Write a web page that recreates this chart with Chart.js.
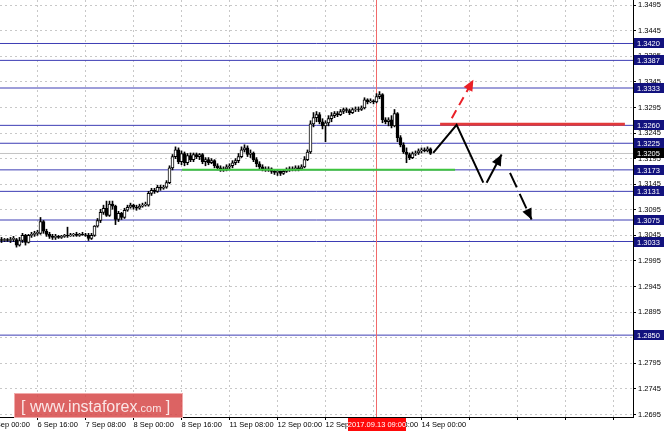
<!DOCTYPE html>
<html><head><meta charset="utf-8">
<script src="https://cdn.jsdelivr.net/npm/chart.js@4.4.0/dist/chart.umd.min.js"></script>
<style>html,body{margin:0;padding:0;background:#fff;}#wrap{width:664px;height:432px;}</style>
</head><body><div id="wrap"><canvas id="c" width="664" height="432"></canvas></div>
<script>
// ---- data (H1 bars, 6 Sep 04:00 .. 14 Sep 03:00) ----
const openP = [1.3037,1.3035,1.3037,1.3035,1.3037,1.3037,1.3026,1.3035,1.3045,1.3031,
1.3045,1.3047,1.3049,1.3049,1.3072,1.3053,1.3047,1.3043,1.3041,1.3043,
1.3041,1.3043,1.3045,1.3044,1.3046,1.3047,1.3045,1.3047,1.3046,1.3045,
1.3039,1.3045,1.3063,1.3074,1.3090,1.3098,1.3084,1.3106,1.3102,1.3076,
1.3088,1.3080,1.3094,1.3100,1.3104,1.3100,1.3098,1.3102,1.3104,1.3104,
1.3127,1.3133,1.3131,1.3139,1.3137,1.3139,1.3148,1.3177,1.3199,1.3212,
1.3189,1.3205,1.3187,1.3201,1.3193,1.3203,1.3199,1.3203,1.3189,1.3193,
1.3187,1.3191,1.3181,1.3177,1.3173,1.3175,1.3179,1.3181,1.3187,1.3191,
1.3199,1.3212,1.3216,1.3203,1.3206,1.3193,1.3185,1.3179,1.3175,1.3173,
1.3175,1.3170,1.3168,1.3170,1.3166,1.3170,1.3173,1.3175,1.3173,1.3177,
1.3175,1.3179,1.3193,1.3208,1.3263,1.3275,1.3281,1.3267,1.3259,1.3265,
1.3273,1.3279,1.3283,1.3281,1.3287,1.3291,1.3289,1.3285,1.3291,1.3292,
1.3291,1.3294,1.3310,1.3306,1.3308,1.3306,1.3316,1.3320,1.3271,1.3267,
1.3271,1.3259,1.3283,1.3236,1.3222,1.3208,1.3203,1.3197,1.3205,1.3206,
1.3210,1.3212,1.3210,1.3214];
const highP = [1.3041,1.3039,1.3039,1.3041,1.3043,1.3039,1.3041,1.3049,1.3047,1.3047,
1.3051,1.3053,1.3055,1.3080,1.3074,1.3057,1.3051,1.3047,1.3047,1.3045,
1.3045,1.3047,1.3061,1.3049,1.3049,1.3051,1.3049,1.3051,1.3049,1.3049,
1.3049,1.3064,1.3078,1.3096,1.3104,1.3112,1.3112,1.3112,1.3104,1.3092,
1.3090,1.3098,1.3104,1.3108,1.3106,1.3104,1.3106,1.3108,1.3110,1.3131,
1.3137,1.3137,1.3143,1.3143,1.3143,1.3152,1.3181,1.3203,1.3218,1.3216,
1.3210,1.3208,1.3205,1.3206,1.3206,1.3206,1.3205,1.3205,1.3197,1.3197,
1.3195,1.3193,1.3185,1.3181,1.3179,1.3183,1.3185,1.3191,1.3195,1.3205,
1.3218,1.3222,1.3220,1.3212,1.3208,1.3197,1.3189,1.3183,1.3179,1.3179,
1.3177,1.3173,1.3173,1.3171,1.3173,1.3177,1.3179,1.3179,1.3181,1.3181,
1.3183,1.3199,1.3212,1.3269,1.3285,1.3287,1.3285,1.3273,1.3269,1.3279,
1.3285,1.3287,1.3287,1.3291,1.3294,1.3294,1.3292,1.3294,1.3296,1.3296,
1.3298,1.3314,1.3312,1.3312,1.3310,1.3322,1.3326,1.3322,1.3275,1.3275,
1.3279,1.3291,1.3285,1.3240,1.3226,1.3216,1.3206,1.3208,1.3210,1.3214,
1.3216,1.3216,1.3218,1.3216];
const lowP = [1.3031,1.3033,1.3033,1.3031,1.3033,1.3022,1.3024,1.3031,1.3026,1.3030,
1.3041,1.3043,1.3045,1.3047,1.3049,1.3043,1.3039,1.3037,1.3037,1.3039,
1.3039,1.3041,1.3041,1.3043,1.3043,1.3043,1.3043,1.3045,1.3043,1.3035,
1.3037,1.3043,1.3061,1.3070,1.3086,1.3082,1.3082,1.3096,1.3066,1.3072,
1.3076,1.3078,1.3092,1.3098,1.3096,1.3094,1.3096,1.3100,1.3102,1.3102,
1.3123,1.3127,1.3129,1.3133,1.3135,1.3137,1.3146,1.3173,1.3195,1.3185,
1.3183,1.3181,1.3183,1.3189,1.3189,1.3195,1.3193,1.3185,1.3181,1.3183,
1.3185,1.3177,1.3173,1.3170,1.3170,1.3171,1.3175,1.3177,1.3183,1.3187,
1.3197,1.3208,1.3199,1.3197,1.3189,1.3179,1.3175,1.3171,1.3170,1.3170,
1.3166,1.3164,1.3162,1.3162,1.3164,1.3168,1.3170,1.3171,1.3171,1.3171,
1.3173,1.3177,1.3191,1.3205,1.3257,1.3267,1.3263,1.3253,1.3228,1.3259,
1.3267,1.3275,1.3277,1.3279,1.3283,1.3285,1.3281,1.3283,1.3287,1.3287,
1.3289,1.3292,1.3302,1.3304,1.3302,1.3304,1.3312,1.3265,1.3263,1.3259,
1.3255,1.3257,1.3228,1.3218,1.3205,1.3187,1.3193,1.3195,1.3201,1.3203,
1.3206,1.3208,1.3208,1.3203];
const closeP = [1.3035,1.3037,1.3035,1.3037,1.3039,1.3026,1.3035,1.3045,1.3031,1.3045,
1.3047,1.3049,1.3051,1.3072,1.3053,1.3047,1.3043,1.3041,1.3043,1.3041,
1.3043,1.3045,1.3044,1.3046,1.3047,1.3045,1.3047,1.3046,1.3045,1.3039,
1.3045,1.3063,1.3074,1.3090,1.3098,1.3084,1.3106,1.3102,1.3076,1.3088,
1.3080,1.3094,1.3100,1.3104,1.3100,1.3098,1.3102,1.3104,1.3106,1.3127,
1.3133,1.3131,1.3139,1.3137,1.3139,1.3148,1.3177,1.3199,1.3212,1.3189,
1.3205,1.3187,1.3201,1.3193,1.3203,1.3199,1.3203,1.3189,1.3193,1.3187,
1.3191,1.3181,1.3177,1.3173,1.3175,1.3179,1.3181,1.3187,1.3191,1.3199,
1.3212,1.3216,1.3203,1.3206,1.3193,1.3185,1.3179,1.3175,1.3173,1.3175,
1.3170,1.3168,1.3170,1.3166,1.3170,1.3173,1.3175,1.3173,1.3177,1.3175,
1.3179,1.3193,1.3208,1.3263,1.3275,1.3281,1.3267,1.3259,1.3265,1.3273,
1.3279,1.3283,1.3281,1.3287,1.3291,1.3289,1.3285,1.3291,1.3292,1.3291,
1.3294,1.3310,1.3306,1.3308,1.3306,1.3316,1.3320,1.3271,1.3267,1.3271,
1.3259,1.3283,1.3236,1.3222,1.3208,1.3203,1.3197,1.3205,1.3206,1.3210,
1.3212,1.3210,1.3214,1.3205];

const tickBars = [-4,12,28,44,60,76,92,108,124,140,156,172,188,204];
const tickLabels = ['6 Sep 00:00','6 Sep 16:00','7 Sep 08:00','8 Sep 00:00','8 Sep 16:00','11 Sep 08:00','12 Sep 00:00','12 Sep 16:00','13 Sep 08:00','14 Sep 00:00','','','',''];
const priceTicks = [1.2695,1.2745,1.2795,1.2845,1.2895,1.2945,1.2995,1.3045,1.3095,1.3145,1.3195,1.3245,1.3295,1.3345,1.3395,1.3445,1.3495];
const levels = [1.3420,1.3387,1.3333,1.3260,1.3225,1.3173,1.3131,1.3075,1.3033,1.2850];
const bidPrice = 1.3205;
const markerBar = 125;
const markerLabel = '2017.09.13 09:00';
const greenLine = [[60.2,1.3173],[151.2,1.3173]];
const redLine = [[146.2,1.3262],[207.8,1.3262]];
const pathMain = [[143.9,1.3206],[151.7,1.3261],[160.6,1.3148]];
const arrowUp = [[161.7,1.3148],[166.7,1.3203]];
const arrowDown = [[169.5,1.3167],[176.7,1.3076]];
const arrowRed = [[150.1,1.3274],[157.3,1.3349]];

// ---- build chart ----
const X_MIN = -0.5, X_MAX = 210.5, Y_MIN = 1.2690, Y_MAX = 1.3505;
const FONT = '"Liberation Sans", Arial, sans-serif';
const toXY = pts => pts.map(p => ({x: p[0], y: p[1]}));
const idx = openP.map((_, i) => i);
const hline = (v) => [{x: X_MIN, y: v}, {x: X_MAX, y: v}];
const lineDs = (data, color, width, order, extra) => Object.assign({type: 'line', data, borderColor: color, borderWidth: width, pointRadius: 0, fill: false, tension: 0, order}, extra || {});

const datasets = [];
datasets.push(lineDs(hline(bidPrice), '#c4c4c4', 1, 10));
levels.forEach(l => datasets.push(lineDs(hline(l), '#3d3db4', 1, 9)));
datasets.push(lineDs([{x: markerBar, y: Y_MIN}, {x: markerBar, y: Y_MAX}], '#f26a6a', 1, 8));
datasets.push({type: 'bar', data: idx.map(i => ({x: i, y: [lowP[i], highP[i]]})), backgroundColor: '#000', barThickness: 1, grouped: false, order: 5});
datasets.push({type: 'bar', data: idx.map(i => ({x: i, y: [openP[i], closeP[i]]})),
  backgroundColor: idx.map(i => closeP[i] >= openP[i] ? '#ffffff' : '#000000'),
  borderColor: '#000', borderWidth: 1, borderSkipped: false, barThickness: 3, grouped: false, order: 4});
datasets.push(lineDs(toXY(greenLine), '#3ec43e', 2, 3));
datasets.push(lineDs(toXY(redLine), '#e23a3a', 3, 3));
datasets.push(lineDs(toXY(pathMain), '#000', 2, 2));
datasets.push(lineDs(toXY(arrowUp), '#000', 2, 2, {arrow: true}));
datasets.push(lineDs(toXY(arrowDown), '#000', 2, 2, {arrow: true, borderDash: [16, 7]}));
datasets.push(lineDs(toXY(arrowRed), '#ea2027', 2, 2, {arrow: true, borderDash: [9, 6]}));

const overlay = {
  id: 'overlay',
  afterDatasetsDraw(chart) {
    const ctx = chart.ctx;
    chart.data.datasets.forEach((ds, i) => {
      if (!ds.arrow) return;
      const pts = chart.getDatasetMeta(i).data;
      const a = pts[pts.length - 2], b = pts[pts.length - 1];
      const ang = Math.atan2(b.y - a.y, b.x - a.x);
      const L = 11, W = 5;
      ctx.save();
      ctx.fillStyle = ds.borderColor;
      ctx.beginPath();
      ctx.moveTo(b.x, b.y);
      ctx.lineTo(b.x - L * Math.cos(ang) + W * Math.sin(ang), b.y - L * Math.sin(ang) - W * Math.cos(ang));
      ctx.lineTo(b.x - L * Math.cos(ang) - W * Math.sin(ang), b.y - L * Math.sin(ang) + W * Math.cos(ang));
      ctx.closePath();
      ctx.fill();
      ctx.restore();
    });
  },
  afterDraw(chart) {
    const ctx = chart.ctx, ys = chart.scales.y, xs = chart.scales.x, area = chart.chartArea;
    ctx.save();
    ctx.font = '7.5px ' + FONT;
    ctx.textBaseline = 'middle';
    ctx.textAlign = 'left';
    const box = (v, color) => {
      const y = Math.round(ys.getPixelForValue(v));
      ctx.fillStyle = color;
      ctx.fillRect(area.right + 1, y - 5, 30, 10);
      ctx.fillStyle = '#fff';
      ctx.fillText(v.toFixed(4), area.right + 4, y + 0.5);
    };
    levels.forEach(l => box(l, '#12127e'));
    box(bidPrice, '#000');
    // time marker label
    const mx = Math.round(xs.getPixelForValue(markerBar));
    ctx.fillStyle = '#ff0a0a';
    ctx.fillRect(mx - 29, area.bottom + 1, 58, 13);
    ctx.fillStyle = '#fff';
    ctx.font = '7.5px ' + FONT;
    ctx.textAlign = 'center';
    ctx.fillText(markerLabel, mx, area.bottom + 8);
    // watermark
    ctx.fillStyle = 'rgba(214,72,72,0.85)';
    ctx.fillRect(14, 393, 169, 25);
    ctx.strokeStyle = 'rgba(245,180,180,0.9)';
    ctx.lineWidth = 1;
    ctx.strokeRect(14.5, 393.5, 168, 24);
    ctx.fillStyle = '#fbe6e6';
    ctx.textAlign = 'left';
    ctx.textBaseline = 'alphabetic';
    let x = 21;
    const part = (t, size) => { ctx.font = size + 'px ' + FONT; ctx.fillText(t, x, 412); x += ctx.measureText(t).width; };
    part('[ ', 16); part('www.instaforex', 16); part('.com', 11); part(' ]', 16);
    ctx.restore();
  }
};

new Chart(document.getElementById('c'), {
  type: 'bar',
  data: {datasets},
  options: {
    responsive: false, animation: false, devicePixelRatio: 1, events: [],
    layout: {padding: 0},
    plugins: {legend: {display: false}, tooltip: {enabled: false}},
    scales: {
      x: {
        type: 'linear', min: X_MIN, max: X_MAX, offset: false, position: 'bottom',
        grid: {offset: false, color: '#c8c8c8', drawTicks: true, tickLength: 3, tickColor: '#000', tickWidth: 1},
        border: {display: true, color: '#000', width: 1, dash: [2, 3]},
        afterBuildTicks: s => { s.ticks = tickBars.map(v => ({value: v})); },
        afterFit: s => { s.height = 15; s.paddingLeft = 0; s.paddingRight = 0; },
        ticks: {autoSkip: false, maxRotation: 0, minRotation: 0, align: 'start', padding: 0, color: '#000',
          font: {family: FONT, size: 7.5},
          callback: v => { const k = tickBars.indexOf(v); return k >= 0 ? tickLabels[k] : ''; }}
      },
      y: {
        type: 'linear', min: Y_MIN, max: Y_MAX, position: 'right',
        grid: {color: '#c8c8c8', drawTicks: true, tickLength: 3, tickColor: '#000', tickWidth: 1},
        border: {display: true, color: '#000', width: 1, dash: [2, 3]},
        afterBuildTicks: s => { s.ticks = priceTicks.map(v => ({value: v})); },
        afterFit: s => { s.width = 31; s.paddingTop = 0; s.paddingBottom = 0; },
        ticks: {autoSkip: false, padding: 2, color: '#000', font: {family: FONT, size: 7.5},
          callback: v => Number(v).toFixed(4)}
      }
    }
  },
  plugins: [overlay]
});
</script>
</body></html>
